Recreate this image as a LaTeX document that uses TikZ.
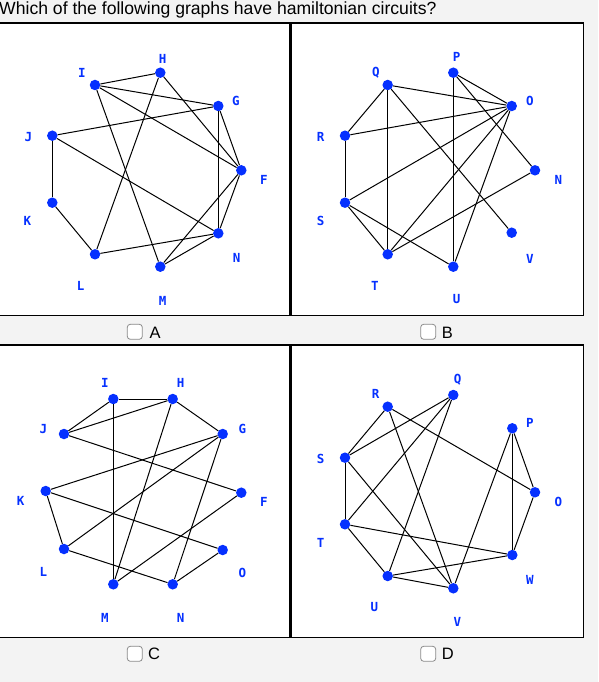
\documentclass[tikz,border=0pt]{standalone}
\usepackage{fontspec}
\setmainfont{Liberation Sans}
\newfontfamily\lblfont{DejaVu Sans Mono Bold}
\usepackage{xcolor}
\definecolor{dotblue}{HTML}{0530FF}
\definecolor{pagegray}{HTML}{F3F3F3}
\definecolor{boxgray}{HTML}{8A8A8A}

\begin{document}
\begin{tikzpicture}[x=1pt,y=-1pt,
  vtx/.style={circle,fill=dotblue,inner sep=0pt,minimum size=10.5pt},
  lbl/.style={text=dotblue,font=\lblfont\fontsize{12.5}{12.5}\selectfont,inner sep=0pt},
  edge/.style={line width=1pt,black},
  panel/.style={draw=black,fill=white,line width=1.5pt},
  tick/.style={draw=boxgray,fill=white,rounded corners=3pt,line width=0.8pt,minimum size=15pt,inner sep=0pt},
  choice/.style={font=\fontsize{16.5}{16.5}\selectfont,anchor=base west,inner sep=0pt}]
  \fill[pagegray] (0,0) rectangle (598,682);
  \useasboundingbox (0,0) rectangle (598,682);
  \node[anchor=base west,inner sep=0pt,font=\fontsize{17.6}{17.6}\selectfont] (title) at (-1,15) {Which of the following graphs have hamiltonian circuits?};

  % panels
  \draw[panel] (-2,23) rectangle (289.5,315.5);
  \draw[panel] (291,23) rectangle (583.5,315.5);
  \draw[panel] (-2,345) rectangle (289.5,637.5);
  \draw[panel] (291,345) rectangle (583.5,637.5);

  % graph A
  \node[vtx] (aH) at (160.3,72.7) {};
  \node[vtx] (aI) at (95,85) {};
  \node[vtx] (aG) at (218.3,106) {};
  \node[vtx] (aJ) at (52.3,135.7) {};
  \node[vtx] (aF) at (241.3,170.3) {};
  \node[vtx] (aK) at (52.3,202.7) {};
  \node[vtx] (aN) at (218.3,233.3) {};
  \node[vtx] (aL) at (95,254.3) {};
  \node[vtx] (aM) at (160.3,266.7) {};
  \node[lbl] (aHl) at (162.7,59) {H};
  \node[lbl] (aIl) at (82,72.7) {I};
  \node[lbl] (aGl) at (236,101) {G};
  \node[lbl] (aJl) at (28.3,137.3) {J};
  \node[lbl] (aFl) at (264,180) {F};
  \node[lbl] (aKl) at (27.3,221) {K};
  \node[lbl] (aNl) at (236.7,258.3) {N};
  \node[lbl] (aLl) at (80.7,285.7) {L};
  \node[lbl] (aMl) at (162.7,301) {M};
  \foreach \u/\v in {aI/aH,aI/aG,aI/aF,aI/aM,aH/aF,aH/aL,aG/aJ,aG/aF,aG/aN,
                     aJ/aK,aJ/aN,aK/aL,aL/aN,aF/aN,aF/aM,aM/aN}
    \draw[edge] (\u) -- (\v);

  % graph B
  \node[vtx] (bP) at (453.3,72.7) {};
  \node[vtx] (bQ) at (387.7,85) {};
  \node[vtx] (bO) at (511.7,106) {};
  \node[vtx] (bR) at (345,135.7) {};
  \node[vtx] (bN) at (535,170.3) {};
  \node[vtx] (bS) at (345,202.7) {};
  \node[vtx] (bV) at (511.7,232.7) {};
  \node[vtx] (bT) at (387.7,254.3) {};
  \node[vtx] (bU) at (453.3,266.7) {};
  \node[lbl] (bPl) at (456.7,57.3) {P};
  \node[lbl] (bQl) at (376,72.7) {Q};
  \node[lbl] (bOl) at (530,101) {O};
  \node[lbl] (bRl) at (320.7,137.3) {R};
  \node[lbl] (bNl) at (558.3,180) {N};
  \node[lbl] (bSl) at (320.7,221) {S};
  \node[lbl] (bVl) at (530,259) {V};
  \node[lbl] (bTl) at (375,285.7) {T};
  \node[lbl] (bUl) at (456.7,299.3) {U};
  \foreach \u/\v in {bQ/bO,bQ/bR,bQ/bT,bQ/bV,bP/bO,bP/bN,bP/bU,bO/bR,bO/bS,
                     bO/bT,bO/bU,bR/bS,bS/bT,bS/bU,bT/bN}
    \draw[edge] (\u) -- (\v);

  % graph C
  \node[vtx] (cI) at (113.3,399) {};
  \node[vtx] (cH) at (172.7,399) {};
  \node[vtx] (cJ) at (64,434) {};
  \node[vtx] (cG) at (222.7,434) {};
  \node[vtx] (cK) at (45.7,491) {};
  \node[vtx] (cF) at (241.3,492.7) {};
  \node[vtx] (cL) at (64,549) {};
  \node[vtx] (cO) at (222.7,550) {};
  \node[vtx] (cM) at (113.3,584.3) {};
  \node[vtx] (cN) at (172.7,584.3) {};
  \node[lbl] (cIl) at (105,383.3) {I};
  \node[lbl] (cHl) at (180.7,383.3) {H};
  \node[lbl] (cJl) at (43.3,429.3) {J};
  \node[lbl] (cGl) at (242.3,429.3) {G};
  \node[lbl] (cKl) at (20.7,501) {K};
  \node[lbl] (cFl) at (264,501.7) {F};
  \node[lbl] (cLl) at (43.3,572.3) {L};
  \node[lbl] (cOl) at (242.3,573.3) {O};
  \node[lbl] (cMl) at (105,617.7) {M};
  \node[lbl] (cNl) at (180.7,617.7) {N};
  \foreach \u/\v in {cI/cH,cI/cJ,cI/cM,cH/cJ,cH/cG,cH/cM,cJ/cF,cG/cK,cG/cL,
                     cG/cN,cK/cL,cK/cO,cF/cM,cL/cN,cO/cN}
    \draw[edge] (\u) -- (\v);

  % graph D
  \node[vtx] (dQ) at (453.3,395) {};
  \node[vtx] (dR) at (387.7,406.7) {};
  \node[vtx] (dP) at (512.3,428.3) {};
  \node[vtx] (dS) at (345,457.7) {};
  \node[vtx] (dO) at (535,492.3) {};
  \node[vtx] (dT) at (345,524.3) {};
  \node[vtx] (dW) at (512.3,555) {};
  \node[vtx] (dU) at (387.7,576) {};
  \node[vtx] (dV) at (453.3,588.3) {};
  \node[lbl] (dQl) at (457.7,380) {Q};
  \node[lbl] (dRl) at (375.7,394.3) {R};
  \node[lbl] (dPl) at (530,422.7) {P};
  \node[lbl] (dSl) at (320.7,459) {S};
  \node[lbl] (dOl) at (558.3,501.7) {O};
  \node[lbl] (dTl) at (320.7,542.7) {T};
  \node[lbl] (dWl) at (530,580) {W};
  \node[lbl] (dUl) at (374.3,606.7) {U};
  \node[lbl] (dVl) at (457.3,621.7) {V};
  \foreach \u/\v in {dR/dS,dR/dO,dR/dV,dQ/dS,dQ/dT,dQ/dU,dS/dT,dS/dV,dT/dU,
                     dT/dW,dU/dV,dU/dW,dV/dP,dP/dO,dP/dW,dO/dW}
    \draw[edge] (\u) -- (\v);

  % answer boxes
  \node[tick] (boxA) at (134.8,331.8) {};
  \node[choice] (optA) at (149.3,338.3) {A};
  \node[tick] (boxB) at (428.2,331.8) {};
  \node[choice] (optB) at (441.7,338.3) {B};
  \node[tick] (boxC) at (134.8,653.8) {};
  \node[choice] (optC) at (148,659) {C};
  \node[tick] (boxD) at (428.2,653.8) {};
  \node[choice] (optD) at (441.7,659) {D};
\end{tikzpicture}
\end{document}
